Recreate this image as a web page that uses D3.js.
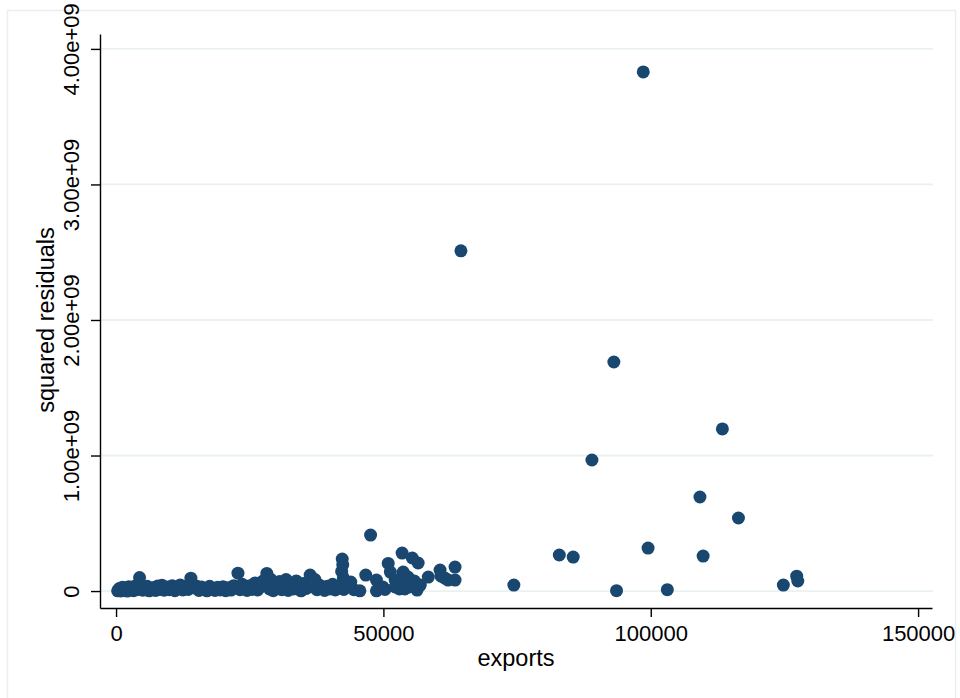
<!DOCTYPE html>
<html>
<head>
<meta charset="utf-8">
<script src="https://cdn.jsdelivr.net/npm/d3@7"></script>
<style>
  html, body { margin: 0; padding: 0; background: #ffffff; }
  svg { display: block; font-family: "Liberation Sans", Helvetica, Arial, sans-serif; }
</style>
</head>
<body>
<svg id="chart" width="960" height="698"></svg>
<script>
// Observations: [exports, squared residual]
const smallExporters = [
  [300, 2e6], [600, 18e6], [900, 1e6], [1200, 28e6], [1500, 5e6], [1800, 22e6],
  [2100, 0], [2400, 32e6], [2700, 8e6], [3000, 25e6], [3300, 3e6], [3600, 38e6],
  [4000, 11e6], [4400, 100e6], [4700, 30e6], [5000, 6e6], [5400, 24e6], [5800, 35e6],
  [6200, 2e6], [6600, 19e6], [7000, 27e6], [7400, 4e6], [7800, 38e6], [8200, 12e6],
  [8600, 42e6], [9000, 6e6], [9500, 30e6], [10000, 10e6], [10500, 40e6], [11000, 3e6],
  [11500, 28e6], [12000, 45e6], [12500, 8e6], [13000, 35e6], [13500, 12e6], [14000, 95e6],
  [14500, 25e6], [15000, 38e6], [15500, 5e6], [16000, 30e6], [16500, 10e6], [17000, 2e6],
  [17500, 35e6], [18000, 12e6], [18500, 4e6], [19000, 28e6], [19500, 8e6], [20000, 32e6],
  [20500, 3e6], [21000, 25e6], [21500, 7e6], [22000, 40e6], [22800, 132e6], [23200, 10e6],
  [23600, 50e6], [24000, 20e6], [24500, 5e6], [25000, 40e6], [25500, 12e6], [26000, 60e6],
  [26500, 8e6], [27000, 30e6], [27500, 75e6], [28200, 130e6], [28300, 40e6], [28700, 15e6],
  [29000, 85e6], [29400, 3e6], [29800, 55e6], [30200, 20e6], [30600, 70e6], [31000, 10e6],
  [31400, 35e6], [31800, 85e6], [32200, 5e6], [32700, 50e6], [33200, 15e6], [33700, 75e6],
  [34200, 25e6], [34600, 2e6], [35000, 55e6], [35500, 18e6], [36300, 118e6], [36400, 60e6],
  [36800, 30e6], [37200, 85e6], [37600, 10e6], [38000, 45e6], [38500, 20e6], [39000, 5e6],
  [39500, 35e6], [40000, 15e6], [40500, 50e6], [41000, 8e6]
];

const midExporters = [
  [41500, 20e6], [42300, 236e6], [42400, 195e6], [42200, 145e6], [42500, 98e6], [42300, 50e6],
  [42600, 12e6], [43900, 66e6], [44500, 10e6], [45600, 2e6], [46700, 118e6], [47600, 413e6],
  [48700, 81e6], [48700, 2e6], [49900, 30e6], [50300, 12e6], [50900, 204e6], [51300, 140e6],
  [52200, 81e6], [52200, 30e6], [53000, 15e6], [53500, 280e6], [53700, 140e6], [52800, 60e6],
  [54000, 15e6], [54600, 103e6], [54800, 30e6], [55000, 50e6], [55400, 244e6], [56500, 207e6],
  [56300, 7e6], [55800, 74e6], [56900, 44e6], [58400, 103e6], [60600, 155e6], [62100, 81e6],
  [60800, 110e6], [63400, 177e6], [63400, 81e6], [61500, 96e6], [64500, 2.51e9]
];

const largeExporters = [
  [74400, 44e6], [82900, 266e6], [85500, 251e6], [89000, 967e6], [93100, 1.69e9],
  [93600, 3e6], [98600, 3.83e9], [99500, 317e6], [103100, 10e6], [109200, 694e6],
  [109800, 258e6], [113400, 1.196e9], [116400, 539e6], [124800, 44e6], [127300, 110e6],
  [127500, 74e6]
];

const xTicks = [0, 50000, 100000, 150000];
const yTicks = [0, 1e9, 2e9, 3e9, 4e9];
const xTitle = "exports";
const yTitle = "squared residuals";

// Axis extents (data units) covering the full plot region
const xExtent = [-3000, 152600];
const yExtent = [-1.25e8, 4.11e9];

const markerColor = "#1a476f";
const gridColor = "#eaf1f3";
const frameColor = "#e7eff1";

const svg = d3.select("#chart");

// outer frame
svg.append("rect")
  .attr("x", 7.5).attr("y", 10.5)
  .attr("width", 948).attr("height", 720)
  .attr("fill", "#ffffff")
  .attr("stroke", frameColor)
  .attr("stroke-width", 1.5);

const plot = { left: 100, right: 932, top: 34, bottom: 608 };

const x = d3.scaleLinear().domain(xExtent).range([plot.left, plot.right]);
const y = d3.scaleLinear().domain(yExtent).range([plot.bottom, plot.top]);

// horizontal grid lines
svg.append("g")
  .selectAll("line")
  .data(yTicks)
  .join("line")
  .attr("x1", plot.left + 1)
  .attr("x2", plot.right + 1)
  .attr("y1", d => y(d))
  .attr("y2", d => y(d))
  .attr("stroke", gridColor)
  .attr("stroke-width", 1.8);

// exponent format with two-digit exponent, e.g. 2.00e+09
function sciFormat(v) {
  if (v === 0) return "0";
  const s = d3.format(".2e")(v);
  const [mant, exp] = s.split("e");
  const sign = exp[0];
  const digits = exp.slice(1).padStart(2, "0");
  return mant + "e" + sign + digits;
}

const tickFont = 22;
const titleFont = 23.5;
const family = "'Liberation Sans', Helvetica, Arial, sans-serif";

// y axis
const yAxis = svg.append("g")
  .attr("transform", `translate(${plot.left},0)`)
  .call(d3.axisLeft(y).tickValues(yTicks).tickFormat(sciFormat).tickSize(9).tickSizeOuter(0));
yAxis.select(".domain").attr("stroke", "#000").attr("stroke-width", 1.4);
yAxis.selectAll(".tick line").attr("stroke", "#000").attr("stroke-width", 1.4);
yAxis.selectAll(".tick text")
  .attr("transform", "rotate(-90)")
  .attr("x", 0)
  .attr("y", -21)
  .attr("dy", 0)
  .attr("text-anchor", "middle")
  .attr("fill", "#000")
  .style("font-size", tickFont + "px")
  .style("font-family", family);

// x axis
const xAxis = svg.append("g")
  .attr("transform", `translate(0,${plot.bottom})`)
  .call(d3.axisBottom(x).tickValues(xTicks).tickFormat(d3.format("d")).tickSize(9).tickSizeOuter(0));
xAxis.select(".domain").attr("stroke", "#000").attr("stroke-width", 1.4);
xAxis.selectAll(".tick line").attr("stroke", "#000").attr("stroke-width", 1.4);
xAxis.selectAll(".tick text")
  .attr("y", 33)
  .attr("dy", 0)
  .attr("fill", "#000")
  .style("font-size", tickFont + "px")
  .style("font-family", family);

// axis titles
svg.append("text")
  .attr("x", (plot.left + plot.right) / 2)
  .attr("y", 666)
  .attr("text-anchor", "middle")
  .style("font-size", titleFont + "px")
  .text(xTitle);

svg.append("text")
  .attr("transform", `translate(54,${320}) rotate(-90)`)
  .attr("text-anchor", "middle")
  .style("font-size", titleFont + "px")
  .text(yTitle);

// points
const allPoints = smallExporters.concat(midExporters, largeExporters);
svg.append("g")
  .selectAll("circle")
  .data(allPoints)
  .join("circle")
  .attr("cx", d => x(d[0]))
  .attr("cy", d => y(d[1]))
  .attr("r", 6.5)
  .attr("fill", markerColor);
</script>
</body>
</html>
